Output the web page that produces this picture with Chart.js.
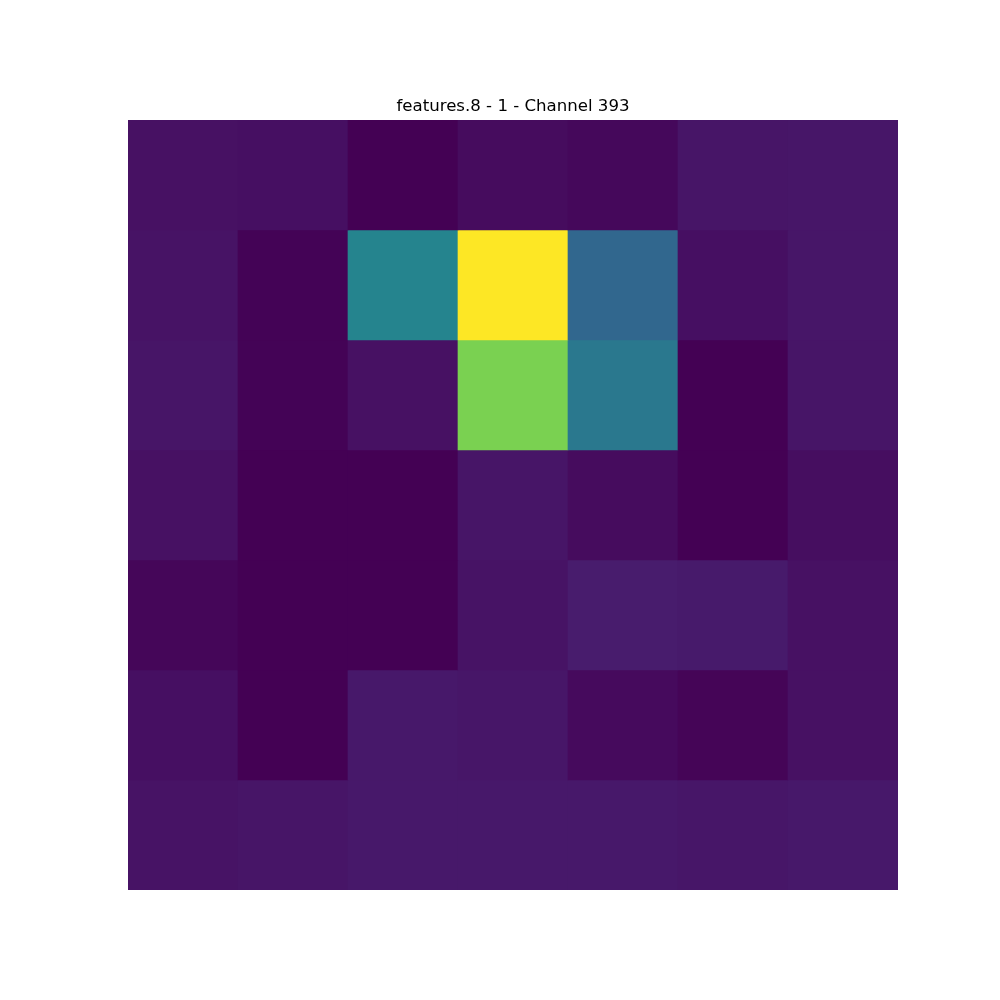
<!DOCTYPE html>
<html>
<head>
<meta charset="utf-8">
<title>features.8 - 1 - Channel 393</title>
<script src="https://cdn.jsdelivr.net/npm/chart.js@4/dist/chart.umd.min.js"></script>
<style>
  body { margin: 0; background: #fff; }
</style>
</head>
<body>
<canvas id="heat" width="1000" height="1000"></canvas>
<script>
// 7x7 activation map, normalised 0..1 (row 0 = top)
var cols = ['0', '1', '2', '3', '4', '5', '6'];
var rows = ['0', '1', '2', '3', '4', '5', '6'];
var row0 = [0.045, 0.04, 0.0, 0.03, 0.02, 0.055, 0.06];
var row1 = [0.05, 0.005, 0.45, 1.0, 0.33, 0.04, 0.06];
var row2 = [0.055, 0.005, 0.045, 0.8, 0.4, 0.0, 0.055];
var row3 = [0.045, 0.0, 0.0, 0.055, 0.03, 0.0, 0.035];
var row4 = [0.015, 0.0, 0.0, 0.05, 0.075, 0.07, 0.045];
var row5 = [0.04, 0.0, 0.065, 0.06, 0.025, 0.01, 0.045];
var row6 = [0.05, 0.055, 0.065, 0.065, 0.065, 0.06, 0.065];
var grid = [row0, row1, row2, row3, row4, row5, row6];

// viridis stops every 0.05
var viridis = ['#440154', '#471365', '#482475', '#463480', '#414487', '#3b528b', '#355f8d',
  '#2f6c8e', '#2a788e', '#25848e', '#21918c', '#1e9c89', '#22a884', '#2fb47c', '#44bf70',
  '#5ec962', '#7ad151', '#9bd93c', '#bddf26', '#dfe318', '#fde725'];

function hexToRgb(h) {
  return [parseInt(h.substr(1, 2), 16), parseInt(h.substr(3, 2), 16), parseInt(h.substr(5, 2), 16)];
}

function colorFor(v) {
  v = Math.max(0, Math.min(1, v));
  var pos = v * (viridis.length - 1);
  var i = Math.min(Math.floor(pos), viridis.length - 2);
  var t = pos - i;
  var a = hexToRgb(viridis[i]), b = hexToRgb(viridis[i + 1]);
  var c = a.map(function(x, k) { return Math.round(x + (b[k] - x) * t); });
  return 'rgb(' + c.join(',') + ')';
}

var datasets = grid.map(function(vals, r) {
  return {
    label: 'row ' + rows[r],
    data: cols.map(function() { return [r, r + 1]; }),
    backgroundColor: vals.map(colorFor),
    borderWidth: 0,
    grouped: false,
    barPercentage: 1,
    categoryPercentage: 1
  };
});

var ctx = document.getElementById('heat').getContext('2d');
var heat = new Chart(ctx, {
  type: 'bar',
  data: { labels: cols, datasets: datasets },
  options: {
    responsive: false,
    animation: false,
    layout: { padding: { left: 128, right: 102, top: 0, bottom: 110 } },
    plugins: {
      legend: { display: false },
      tooltip: { enabled: false },
      title: {
        display: true,
        text: 'features.8 - 1 - Channel 393',
        color: '#000',
        font: { family: 'DejaVu Sans', size: 16.6, weight: 'normal' },
        padding: { top: 97, bottom: 3 }
      }
    },
    scales: {
      x: { display: false },
      y: { display: false, min: 0, max: 7, reverse: true }
    }
  }
});
</script>
</body>
</html>
